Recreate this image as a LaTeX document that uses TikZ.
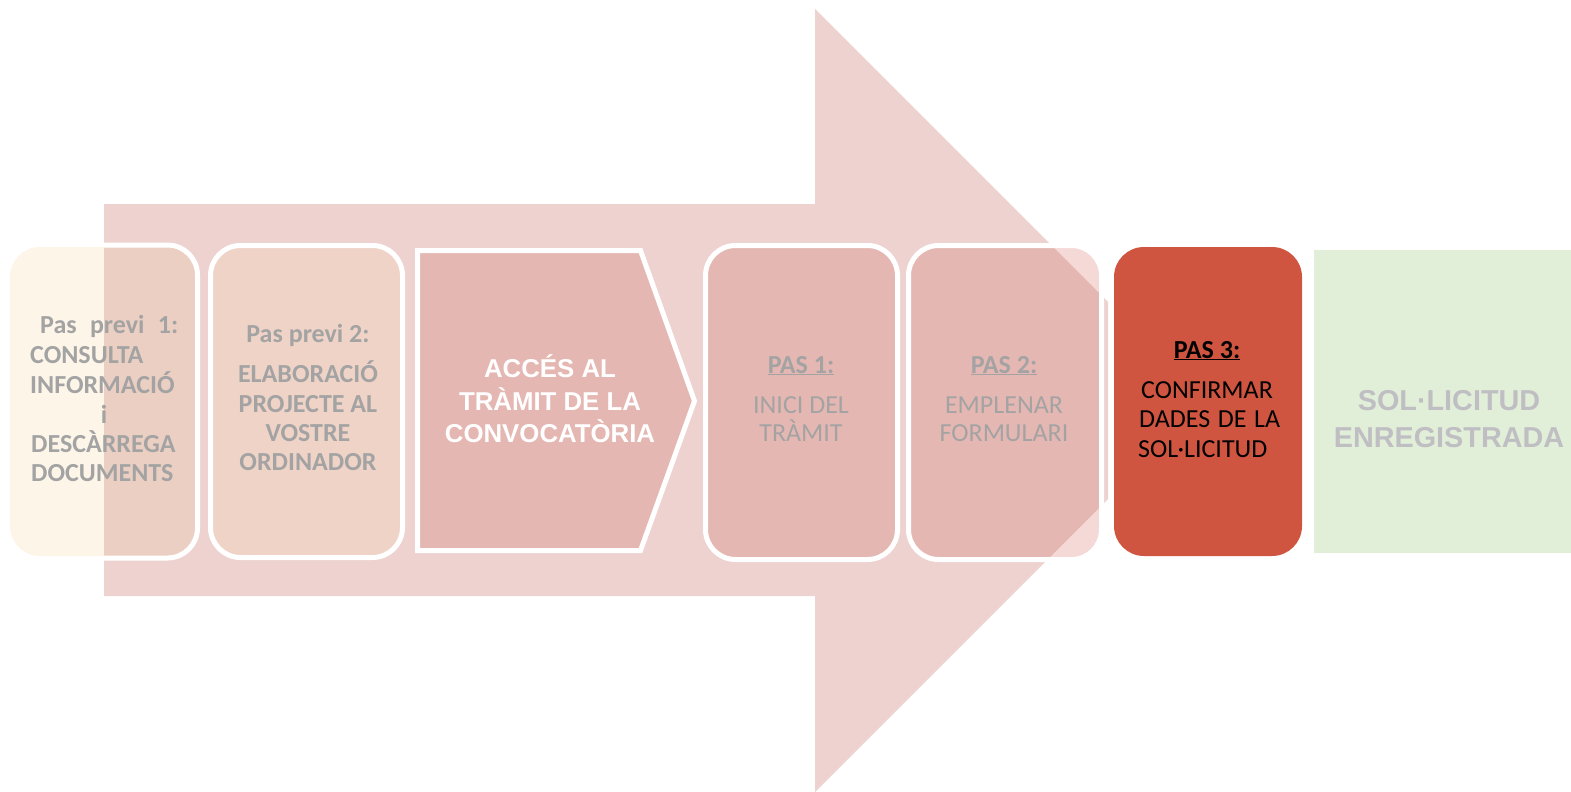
\documentclass[tikz,border=0pt]{standalone}
\usepackage{fontspec}
\setmainfont{Carlito}
\newfontfamily\arialf{Liberation Sans}
\definecolor{arrowc}{HTML}{EDD2CF}
\definecolor{bAout}{HTML}{FCF5E8}
\definecolor{bAin}{HTML}{ECCFC3}
\definecolor{bBc}{HTML}{EFD3C7}
\definecolor{bCc}{HTML}{E5B7B2}
\definecolor{bEout}{HTML}{F5D9D6}
\definecolor{redc}{HTML}{D05540}
\definecolor{greenc}{HTML}{E2EFD8}
\definecolor{txtgray}{HTML}{A3A3A3}
\definecolor{txtlight}{HTML}{BFBFC3}
\begin{document}
\begin{tikzpicture}[x=1pt,y=-1pt,
  rb/.style={rounded corners=30pt},
  wb/.style={draw=white, line width=5pt},
  gtb/.style={text=txtgray, font=\fontsize{26}{29.5}\selectfont\bfseries, inner sep=0pt},
  gtr/.style={text=txtgray, font=\fontsize{26}{29.5}\selectfont, inner sep=0pt},
  atw/.style={text=white, font=\arialf\fontsize{25.8}{30}\selectfont\bfseries, inner sep=0pt, anchor=base},
  atg/.style={text=txtlight, font=\arialf\fontsize{28.8}{34}\selectfont\bfseries, inner sep=0pt, anchor=base},
]
\useasboundingbox (0,0) rectangle (1571,792);
\clip (0,0) rectangle (1571,792);
\fill[white] (0,0) rectangle (1571,792);
\def\arrowpath{(104,204) -- (815,204) -- (815,9) -- (1108,302) -- (1108,499) -- (815,792) -- (815,596) -- (104,596) -- cycle}
% big arrow
\fill[arrowc] \arrowpath;
% box 1
\fill[bAout, rb] (10,247) rectangle (197.5,556);
\begin{scope}
  \clip \arrowpath;
  \fill[bAin, rb] (10,247) rectangle (197.5,556);
  \draw[wb, rb] (12.5,245) rectangle (197.5,558);
\end{scope}
% box 2
\filldraw[fill=bBc, wb, rb] (210.5,245.5) rectangle (402.5,557.5);
% box 3 (pentagon)
\filldraw[fill=bCc, wb, line join=miter] (417.5,250.5) -- (640.5,250.5) -- (694.5,401) -- (640.5,550.5) -- (417.5,550.5) -- cycle;
% box 4
\filldraw[fill=bCc, wb, rb] (705.5,245.5) rectangle (897.5,559.5);
% box 5
\fill[bEout, rb] (908.5,245.5) rectangle (1101.5,559.5);
\begin{scope}
  \clip \arrowpath;
  \fill[bCc, rb] (908.5,245.5) rectangle (1101.5,559.5);
\end{scope}
\draw[wb, rb] (908.5,245.5) rectangle (1101.5,559.5);
% box 6
\fill[redc, rb] (1114,247) rectangle (1302,556);
% box 7
\fill[greenc] (1314,250) rectangle (1580,553);

% texts box 1
\node[gtb, anchor=base west] (p1a) at (40,333) {\makebox[138pt][s]{Pas previ 1:}};
\node[gtb, anchor=base west] (p1b) at (30,363) {CONSULTA};
\node[gtb, anchor=base west] (p1c) at (30,393) {INFORMACIÓ};
\node[gtb, anchor=base] (p1d) at (104,423) {i};
\node[gtb, anchor=base west] (p1e) at (31,452) {DESCÀRREGA};
\node[gtb, anchor=base west] (p1f) at (31,481) {DOCUMENTS};
% box 2
\node[gtb, anchor=base] (p2a) at (308,342) {Pas previ 2:};
\node[gtb, anchor=base] (p2b) at (308,382) {ELABORACIÓ};
\node[gtb, anchor=base] (p2c) at (308,412) {PROJECTE AL};
\node[gtb, anchor=base] (p2d) at (308,441) {VOSTRE};
\node[gtb, anchor=base] (p2e) at (308,470) {ORDINADOR};
% box 3
\node[atw] (p3a) at (550,377) {ACCÉS AL};
\node[atw] (p3b) at (550,410) {TRÀMIT DE LA};
\node[atw] (p3c) at (550,442) {CONVOCATÒRIA};
% box 4
\node[gtb, anchor=base] (p4a) at (801,373) {\underline{PAS 1:}};
\node[gtr, anchor=base] (p4b) at (801,413) {INICI DEL};
\node[gtr, anchor=base] (p4c) at (801,441) {TRÀMIT};
% box 5
\node[gtb, anchor=base] (p5a) at (1004,373) {\underline{PAS 2:}};
\node[gtr, anchor=base] (p5b) at (1004,413) {EMPLENAR};
\node[gtr, anchor=base] (p5c) at (1004,441) {FORMULARI};
% box 6
\node[gtb, text=black, anchor=base] (p6a) at (1207,358) {\underline{PAS 3:}};
\node[gtr, text=black, anchor=base west] (p6b) at (1141,398) {CONFIRMAR};
\node[gtr, text=black, anchor=base west] (p6c) at (1139,427) {\makebox[141pt][s]{DADES DE LA}};
\node[gtr, text=black, anchor=base west] (p6d) at (1138,457) {SOL·LICITUD};
% box 7
\node[atg] (p7a) at (1449,410) {SOL·LICITUD};
\node[atg] (p7b) at (1449,447) {ENREGISTRADA};
\end{tikzpicture}
\end{document}
